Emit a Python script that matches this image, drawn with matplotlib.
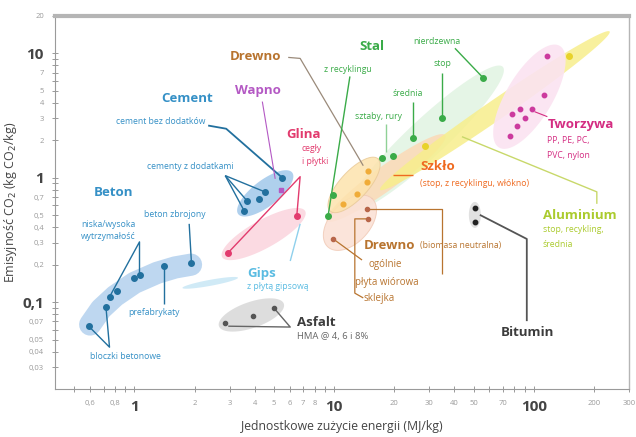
import numpy as np
import matplotlib.pyplot as plt
from matplotlib.ticker import FixedLocator, NullFormatter

plt.rcParams['font.family'] = ['Open Sans', 'DejaVu Sans']

# ---- material points: embodied energy (MJ/kg) vs CO2 (kg CO2/kg) ----
beton_x = [0.59, 0.72, 0.75, 0.82, 1.0, 1.06, 1.41, 1.93]
beton_y = [0.064, 0.091, 0.11, 0.123, 0.155, 0.165, 0.195, 0.206]

cement_x = [5.5, 4.5, 4.2, 3.67, 3.55]
cement_y = [1.0, 0.77, 0.68, 0.65, 0.54]

wapno_x = [5.4]
wapno_y = [0.8]

glina_x = [6.5, 2.95]
glina_y = [0.49, 0.25]

asfalt_x = [2.85, 3.94, 5.0]
asfalt_y = [0.068, 0.077, 0.0895]

bitumin_x = [50.7, 50.7]
bitumin_y = [0.573, 0.44]

drewno_x = [14.7, 14.6, 13.0, 11.1]
drewno_y = [1.14, 0.93, 0.743, 0.617]

drewno_bio_x = [14.6, 14.8, 9.9]
drewno_bio_y = [0.562, 0.467, 0.322]

stal_x = [9.9, 9.33, 17.4, 19.7, 24.8, 34.7, 55.6]
stal_y = [0.73, 0.494, 1.45, 1.5, 2.1, 3.05, 6.4]

alu_x = [28.5, 151]
alu_y = [1.81, 9.6]

tworzywa_x = [77.6, 85, 97.7, 90, 82, 75.9, 112, 117]
tworzywa_y = [3.28, 3.6, 3.6, 3.05, 2.63, 2.18, 4.6, 9.5]

# axis ticks
x_ticks = [0.6, 0.8, 1, 2, 3, 4, 5, 6, 7, 8, 10, 20, 30, 40, 50, 70, 100, 200, 300]
x_labels = ['0,6', '0,8', '1', '2', '3', '4', '5', '6', '7', '8', '10',
            '20', '30', '40', '50', '70', '100', '200', '300']
x_minor = [0.5, 0.7, 0.9, 9, 60, 80, 90]
y_ticks = [0.03, 0.04, 0.05, 0.07, 0.1, 0.2, 0.3, 0.4, 0.5, 0.7, 1, 2, 3, 4, 5, 7, 10, 20]
y_labels = ['0,03', '0,04', '0,05', '0,07', '0,1', '0,2', '0,3', '0,4', '0,5', '0,7',
            '1', '2', '3', '4', '5', '7', '10', '20']
y_minor = [0.06, 0.08, 0.09, 0.6, 0.8, 0.9, 6, 8, 9]

# colours
C_BLUE = '#22709e'
C_CEM = '#3590c6'
C_WAP = '#b459c4'
C_GLI = '#e23b6e'
C_GIPS = '#5bbce2'
C_DRE = '#b8742f'
C_STAL = '#3aab48'
C_SZK = '#ef6a20'
C_ALU = '#abcb2e'
C_TWO = '#d42d82'
C_DARK = '#3c3c3c'

fig = plt.figure(figsize=(6.36, 4.37), dpi=100)
ax = fig.add_axes([55 / 636, 48 / 437, 574 / 636, 373 / 437])
ax.set_xscale('log')
ax.set_yscale('log')
ax.set_xlim(0.4, 300)
ax.set_ylim(0.02, 20)


def ellipse_zone(p0, p1, width, color, alpha=0.85, edge=None, z=1):
    # ellipse with its long axis between p0 and p1 (data), width in pixels
    a = ax.transData.transform(p0)
    b = ax.transData.transform(p1)
    c = (a + b) / 2
    d = b - a
    half = np.hypot(*d) / 2
    ang = np.arctan2(d[1], d[0])
    t = np.linspace(0, 2 * np.pi, 160)
    ex = half * np.cos(t)
    ey = width / 2 * np.sin(t)
    pts = np.column_stack([c[0] + ex * np.cos(ang) - ey * np.sin(ang),
                           c[1] + ex * np.sin(ang) + ey * np.cos(ang)])
    xy = ax.transData.inverted().transform(pts)
    ax.fill(xy[:, 0], xy[:, 1], color=color, alpha=alpha, lw=0, zorder=z)
    if edge:
        ax.plot(xy[:, 0], xy[:, 1], color=edge, lw=0.7, alpha=0.8, zorder=z)


def leader(xs, ys, color, lw=1.0):
    ax.plot(xs, ys, color=color, lw=lw, zorder=3, solid_capstyle='butt')


# ---- zones ----
ellipse_zone((12.0, 0.55), (70, 7.8), 38, '#e3f4e4', alpha=0.9)
ellipse_zone((9.2, 0.45), (36, 2.2), 24, '#fcd9b6', alpha=0.85)
ellipse_zone((17.0, 0.8), (240, 15.0), 20, '#f7ee8c', alpha=0.85)
ellipse_zone((9.3, 0.278), (15.5, 0.68), 40, '#fbe2d6', alpha=0.9, edge='#f0c8b4')
ellipse_zone((9.55, 0.54), (16.6, 1.42), 28, '#fde3ad', alpha=0.85, edge='#e8c896')
ellipse_zone((67, 1.75), (135, 11.5), 46, '#fbe3f1', alpha=0.9)
ellipse_zone((3.31, 0.51), (6.17, 1.1), 26, '#a7cbec', alpha=0.9)
ellipse_zone((2.75, 0.23), (7.16, 0.54), 28, '#fbd6df', alpha=0.9)
ellipse_zone((1.74, 0.13), (3.3, 0.157), 6, '#cbe8f6', alpha=0.9)
ellipse_zone((2.65, 0.064), (5.6, 0.097), 26, '#dadada', alpha=0.9)
ellipse_zone((50.7, 0.64), (50.7, 0.395), 12, '#dedede', alpha=0.9)

# concrete band
band_x = [0.6, 0.68, 0.8, 1.0, 1.3, 1.6, 1.92]
band_y = [0.066, 0.088, 0.112, 0.143, 0.172, 0.19, 0.2]
ax.plot(band_x, band_y, color='#b7d3ef', lw=16, alpha=0.9,
        solid_capstyle='round', solid_joinstyle='round', zorder=1)

# ---- leaders ----
# beton
leader([1.88, 1.93], [0.426, 0.206], C_BLUE)
leader([0.75, 1.06, 1.06], [0.11, 0.305, 0.165], C_BLUE)
leader([1.41, 1.41], [0.096, 0.195], C_BLUE)
leader([0.59, 0.75, 0.72], [0.064, 0.0434, 0.091], C_BLUE)
# cement
leader([2.34, 2.88, 5.5], [2.63, 2.48, 1.0], C_BLUE, 1.3)
for cx, cy in zip([3.55, 3.67, 4.5], [0.54, 0.65, 0.77]):
    leader([2.85, cx], [1.04, cy], C_BLUE)
# wapno
leader([4.37, 5.07], [4.1, 0.98], C_WAP, 0.8)
# glina
leader([2.95, 6.76, 6.5], [0.25, 1.02, 0.49], C_GLI)
# gips
leader([6.03, 6.76], [0.214, 0.426], '#8fd0ec')
# asfalt
leader([2.95, 6.03, 5.0], [0.064, 0.063, 0.0895], '#666666')
# bitumin
leader([53.7, 92.3, 92.3], [0.503, 0.322, 0.0703], '#555555', 1.3)
# drewno
leader([5.89, 6.76, 14.0], [9.29, 9.12, 1.25], '#9a8a7a', 0.9)
leader([9.9, 13.8], [0.322, 0.218], C_DRE, 0.9)
leader([14.8, 12.7, 12.7, 14.0], [0.467, 0.467, 0.118, 0.108], C_DRE, 0.9)
leader([14.6, 34.7, 34.7], [0.562, 0.562, 0.168], C_DRE, 0.9)
# stal
leader([12.0, 9.33], [6.53, 0.494], C_STAL)
leader([18.2, 18.2], [2.72, 1.62], '#8fd196')
leader([24.8, 24.8], [4.1, 2.1], C_STAL)
leader([34.7, 34.7], [6.9, 3.05], C_STAL)
leader([40.3, 55.6], [11.0, 6.4], C_STAL)
# szklo
leader([19.7, 24.8], [1.06, 1.06], C_SZK)
# aluminium
leader([43.7, 207, 207], [2.14, 0.77, 0.617], '#c8d86a')
# tworzywa
leader([101, 117], [3.4, 3.1], C_TWO, 0.8)

# ---- points ----
ms = 4.0
ax.plot(beton_x, beton_y, 'o', color=C_BLUE, ms=ms, zorder=4)
ax.plot(cement_x, cement_y, 'o', color=C_BLUE, ms=ms, zorder=4)
ax.plot(wapno_x, wapno_y, 's', color=C_WAP, ms=2.5, zorder=4)
ax.plot(glina_x, glina_y, 'o', color=C_GLI, ms=ms, zorder=4)
ax.plot(asfalt_x, asfalt_y, 'o', color='#555555', ms=3, zorder=4)
ax.plot(bitumin_x, bitumin_y, 'o', color='#222222', ms=3.2, zorder=4)
ax.plot(drewno_x, drewno_y, 'o', color='#f0ac38', ms=3.4, zorder=4)
ax.plot(drewno_bio_x, drewno_bio_y, 'o', color='#b8664a', ms=3, zorder=4)
ax.plot(stal_x, stal_y, 'o', color=C_STAL, ms=ms, zorder=4)
ax.plot(alu_x, alu_y, 'o', color='#e8d22a', ms=ms, zorder=4)
ax.plot(tworzywa_x, tworzywa_y, 'o', color='#cc3a9e', ms=3.2, zorder=4)

# ---- labels ----
big = dict(fontsize=9.5, fontweight='bold', zorder=5)
small = dict(fontsize=6.2, zorder=5)


def label(x, y, s, color, ha='center', **kw):
    ax.text(x, y, s, color=color, ha=ha, va='center', **kw)


label(1.84, 4.34, 'Cement', C_CEM, **big)
label(1.35, 2.83, 'cement bez dodatków', C_CEM, **small)
label(1.91, 1.23, 'cementy z dodatkami', C_CEM, **small)
label(0.785, 0.757, 'Beton', C_CEM, **big)
label(1.6, 0.503, 'beton zbrojony', C_CEM, **small)
label(0.741, 0.418, 'niska/wysoka', C_CEM, **small)
label(0.741, 0.34, 'wytrzymałość', C_CEM, **small)
label(1.26, 0.083, 'prefabrykaty', C_CEM, **small)
label(0.9, 0.0367, 'bloczki betonowe', C_CEM, **small)

label(4.17, 5.0, 'Wapno', C_WAP, **big)
label(7.0, 2.22, 'Glina', C_GLI, **big)
label(7.76, 1.71, 'cegły', C_GLI, **small)
label(8.04, 1.35, 'i płytki', C_GLI, **small)

label(3.67, 0.171, 'Gips', C_GIPS, ha='left', **big)
label(3.67, 0.1346, 'z płytą gipsową', C_GIPS, ha='left', **small)

label(6.53, 0.069, 'Asfalt', C_DARK, ha='left', **big)
label(6.53, 0.0532, 'HMA @ 4, 6 i 8%', '#666666', ha='left', fontsize=6.8, zorder=5)
label(93.3, 0.0573, 'Bitumin', C_DARK, **big)

label(4.03, 9.46, 'Drewno', C_DRE, **big)
label(14.1, 0.283, 'Drewno', C_DRE, ha='left', **big)
label(26.9, 0.283, '(biomasa neutralna)', C_DRE, ha='left', **small)
label(14.8, 0.202, 'ogólnie', C_DRE, ha='left', fontsize=7, zorder=5)
label(12.7, 0.145, 'płyta wiórowa', C_DRE, ha='left', fontsize=7, zorder=5)
label(14.0, 0.106, 'sklejka', C_DRE, ha='left', fontsize=7, zorder=5)

label(15.5, 11.4, 'Stal', C_STAL, **big)
label(11.7, 7.43, 'z recyklingu', C_STAL, **small)
label(16.6, 3.1, 'sztaby, rury', C_STAL, **small)
label(23.4, 4.76, 'średnia', C_STAL, **small)
label(34.7, 8.3, 'stop', C_STAL, **small)
label(32.7, 12.5, 'nierdzewna', C_STAL, **small)

label(26.9, 1.23, 'Szkło', C_SZK, ha='left', **big)
label(26.9, 0.895, '(stop, z recyklingu, włókno)', C_SZK, ha='left', **small)

label(111, 0.494, 'Aluminium', C_ALU, ha='left', **big)
label(111, 0.381, 'stop, recykling,', C_ALU, ha='left', **small)
label(111, 0.288, 'średnia', C_ALU, ha='left', **small)

label(117, 2.67, 'Tworzywa', C_TWO, ha='left', **big)
label(117, 1.99, 'PP, PE, PC,', C_TWO, ha='left', **small)
label(117, 1.5, 'PVC, nylon', C_TWO, ha='left', **small)

# ---- axes styling ----
ax.xaxis.set_major_locator(FixedLocator(x_ticks))
ax.xaxis.set_minor_locator(FixedLocator(x_minor))
ax.set_xticklabels(x_labels)
ax.xaxis.set_minor_formatter(NullFormatter())
ax.yaxis.set_major_locator(FixedLocator(y_ticks))
ax.yaxis.set_minor_locator(FixedLocator(y_minor))
ax.set_yticklabels(y_labels)
ax.yaxis.set_minor_formatter(NullFormatter())

ax.tick_params(which='both', direction='inout', length=4, width=0.7,
               colors='#999999', pad=6)
for lab in ax.get_xticklabels() + ax.get_yticklabels():
    if lab.get_text() in ('1', '10', '100', '0,1'):
        lab.set_fontsize(11)
        lab.set_fontweight('bold')
        lab.set_color('#444444')
    else:
        lab.set_fontsize(5.5)
        lab.set_color('#9a9a9a')

for side in ('left', 'bottom'):
    ax.spines[side].set_color('#9a9a9a')
    ax.spines[side].set_linewidth(0.8)
ax.spines['top'].set_color('#b5b5b5')
ax.spines['top'].set_linewidth(3)
ax.spines['right'].set_color('#b5b5b5')
ax.spines['right'].set_linewidth(1)

ax.set_xlabel('Jednostkowe zużycie energii (MJ/kg)', fontsize=8.8,
              color='#444444', labelpad=4)
ax.set_ylabel('Emisyjność CO$_2$ (kg CO$_2$/kg)', fontsize=9,
              color='#444444', labelpad=2)

fig.savefig('out.png', dpi=100)
